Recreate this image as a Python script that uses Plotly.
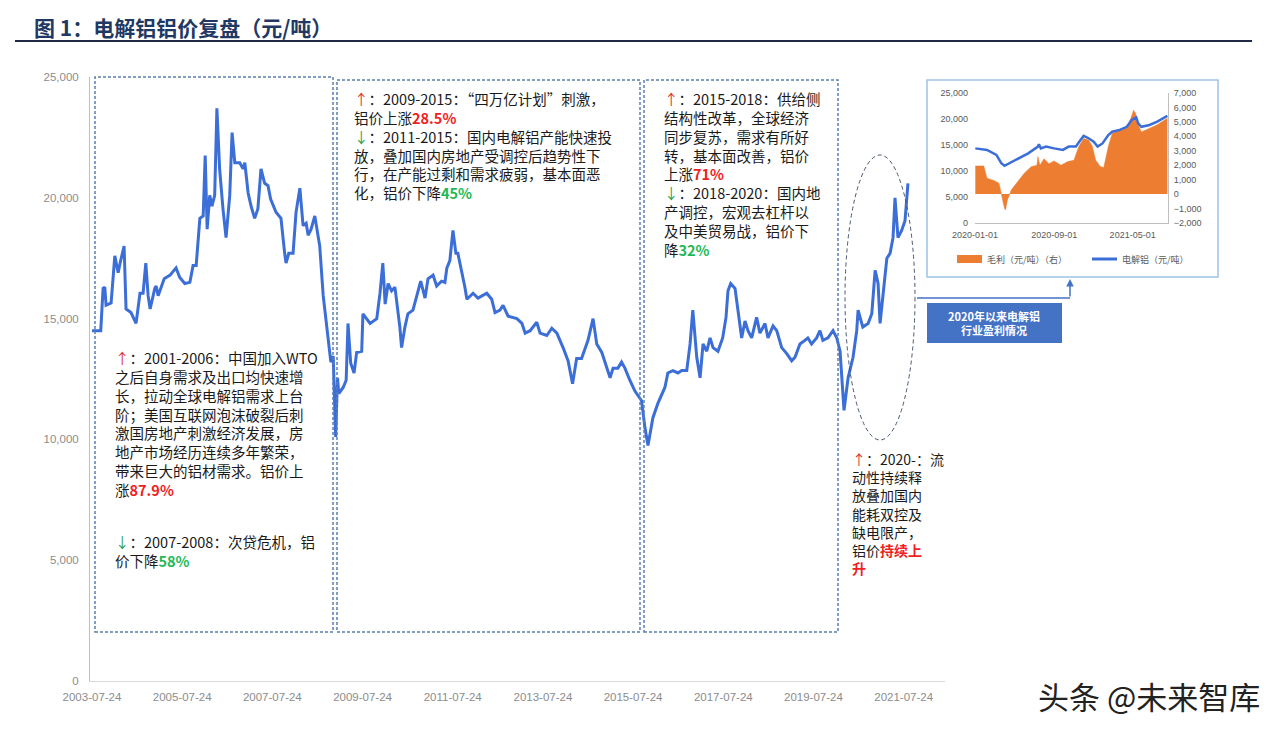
import plotly.graph_objects as go

W, H = 1282, 734
CJK = "Noto Sans CJK SC"


def px(x):
    return x / W


def py(y):
    return 1 - y / H


# ---------------- data: main chart ----------------
dates = [
    "2003-07-24", "2003-10-03", "2003-10-22", "2003-11-05", "2003-11-15", "2003-12-26",
    "2004-01-25", "2004-02-21", "2004-03-08", "2004-04-09", "2004-04-25", "2004-06-04",
    "2004-07-15", "2004-08-16", "2004-09-10", "2004-10-02", "2004-10-21", "2004-11-06",
    "2004-12-14", "2004-12-25", "2005-01-10", "2005-02-28", "2005-04-17", "2005-06-04",
    "2005-07-04", "2005-08-14", "2005-09-24", "2005-10-20", "2005-11-14", "2005-12-14",
    "2006-01-10", "2006-01-26", "2006-02-11", "2006-03-04", "2006-03-22", "2006-04-13",
    "2006-05-01", "2006-05-23", "2006-06-19", "2006-07-14", "2006-08-13", "2006-09-01",
    "2006-09-23", "2006-11-02", "2006-11-29", "2006-12-13", "2007-01-09", "2007-02-02",
    "2007-03-03", "2007-03-29", "2007-04-23", "2007-05-23", "2007-06-19", "2007-07-10",
    "2007-08-23", "2007-10-02", "2007-11-01", "2007-11-12", "2007-12-04", "2008-01-08",
    "2008-02-01", "2008-03-03", "2008-03-29", "2008-04-23", "2008-05-09", "2008-06-02",
    "2008-07-02", "2008-07-20", "2008-08-11", "2008-09-08", "2008-10-18", "2008-11-09",
    "2008-11-28", "2008-12-18", "2009-01-02", "2009-01-12", "2009-02-17", "2009-03-13",
    "2009-03-28", "2009-04-19", "2009-05-16", "2009-06-06", "2009-07-17", "2009-07-27",
    "2009-09-23", "2009-11-16", "2009-12-12", "2010-01-04", "2010-01-23", "2010-02-16",
    "2010-03-16", "2010-04-12", "2010-05-22", "2010-06-05", "2010-07-02", "2010-07-26",
    "2010-09-05", "2010-10-16", "2010-11-07", "2010-12-12", "2011-01-05", "2011-02-15",
    "2011-03-16", "2011-04-25", "2011-05-22", "2011-06-07", "2011-07-01", "2011-07-26",
    "2011-08-19", "2011-09-04", "2011-10-04", "2011-10-31", "2011-11-16", "2012-01-05",
    "2012-02-14", "2012-04-25", "2012-06-04", "2012-07-01", "2012-08-10", "2012-09-04",
    "2012-10-15", "2012-12-25", "2013-02-04", "2013-03-02", "2013-04-11", "2013-06-04",
    "2013-07-01", "2013-08-24", "2013-10-04", "2013-11-14", "2014-01-03", "2014-02-13",
    "2014-03-21", "2014-04-23", "2014-06-02", "2014-07-24", "2014-09-03", "2014-10-03",
    "2014-11-13", "2014-12-23", "2015-01-19", "2015-02-12", "2015-03-23", "2015-04-22",
    "2015-05-19", "2015-06-28", "2015-08-08", "2015-10-01", "2015-10-28", "2015-11-22",
    "2016-01-01", "2016-02-11", "2016-04-07", "2016-05-01", "2016-06-11", "2016-07-22",
    "2016-08-21", "2016-10-01", "2016-10-28", "2016-11-19", "2016-12-21", "2017-01-17",
    "2017-02-10", "2017-03-12", "2017-04-08", "2017-05-02", "2017-06-11", "2017-07-19",
    "2017-08-15", "2017-08-31", "2017-09-22", "2017-10-27", "2017-11-20", "2017-12-20",
    "2018-01-16", "2018-02-09", "2018-03-11", "2018-04-20", "2018-05-17", "2018-06-27",
    "2018-07-21", "2018-08-31", "2018-09-30", "2018-11-09", "2018-12-20", "2019-01-29",
    "2019-02-25", "2019-04-06", "2019-05-16", "2019-06-09", "2019-07-09", "2019-08-19",
    "2019-09-15", "2019-10-09", "2019-11-19", "2019-12-30", "2020-01-29", "2020-02-25",
    "2020-03-28", "2020-04-30", "2020-06-09", "2020-07-09", "2020-07-20", "2020-08-27",
    "2020-10-09", "2020-11-08", "2020-12-05", "2020-12-29", "2021-01-14", "2021-02-08",
    "2021-03-10", "2021-04-05", "2021-04-29", "2021-05-15", "2021-06-08", "2021-07-08",
    "2021-08-04", "2021-08-28",
]
price = [
    14500, 14500, 16250, 16300, 15550, 15650,
    17600, 16900, 17300, 18000, 15400, 15250,
    14800, 16050, 16050, 17300, 15950, 15400,
    16250, 16350, 15950, 16650, 16800, 17100,
    16700, 16450, 16500, 17200, 17200, 19150,
    19250, 21750, 18700, 20100, 19650, 20100,
    23700, 21200, 19550, 18350, 20100, 22700,
    21450, 21450, 21200, 21450, 20200, 19650,
    19150, 19550, 21200, 20600, 20500, 19950,
    19400, 19150, 17700, 17300, 17700, 17700,
    19400, 20400, 18850, 18950, 18450, 18700,
    19250, 18700, 18000, 15950, 14150, 13200,
    13450, 10100, 12550, 11900, 12150, 12450,
    14800, 13150, 12750, 13600, 13650, 15200,
    14800, 15000, 16050, 17300, 15600, 16450,
    16150, 16300, 14650, 13800, 14650, 15200,
    15350, 16150, 16550, 15850, 16650, 16800,
    16350, 16550, 16500, 17100, 17400, 18650,
    17700, 17700, 17000, 16300, 15800, 16050,
    15850, 16050, 15800, 15250, 15350, 15550,
    15100, 15000, 14800, 14400, 14500, 14850,
    14400, 14300, 14600, 14400, 13800, 13250,
    12300, 13350, 13350, 14100, 15000, 13950,
    13600, 12950, 12550, 12950, 12950, 13200,
    12950, 12450, 12000, 11600, 10500, 9750,
    10900, 11500, 12150, 12750, 12850, 12750,
    12850, 12850, 13950, 15350, 13400, 12550,
    13950, 13650, 14200, 13800, 13650, 14200,
    15050, 16150, 16450, 16250, 15350, 14200,
    14900, 14500, 14200, 15050, 14400, 14800,
    14200, 14700, 14500, 13800, 13550, 13250,
    13400, 13950, 14100, 14200, 13950, 14200,
    14500, 14100, 14200, 14500, 14200, 13650,
    11200, 12550, 13400, 14500, 15350, 14650,
    14800, 15200, 17000, 16450, 14800, 16150,
    17500, 17700, 18350, 20000, 18350, 18650,
    19050, 20600,
]
x_ticks = ["2003-07-24", "2005-07-24", "2007-07-24", "2009-07-24", "2011-07-24",
           "2013-07-24", "2015-07-24", "2017-07-24", "2019-07-24", "2021-07-24"]
y_ticks = [0, 5000, 10000, 15000, 20000, 25000]

# ---------------- data: inset ----------------
inset_price_dates = [
    "2020-01-02", "2020-02-07", "2020-03-07", "2020-03-22", "2020-04-01", "2020-04-16",
    "2020-05-13", "2020-06-13", "2020-07-13", "2020-07-16", "2020-07-22", "2020-08-07",
    "2020-09-01", "2020-09-28", "2020-10-16", "2020-11-07", "2020-11-19", "2020-12-01",
    "2020-12-16", "2021-01-01", "2021-01-13", "2021-01-28", "2021-02-15", "2021-02-27",
    "2021-03-22", "2021-04-13", "2021-04-28", "2021-05-12", "2021-05-18", "2021-05-28",
    "2021-06-22", "2021-07-16", "2021-08-16",
]
inset_price = [
    14350, 14050, 13100, 11500, 11000, 11500,
    12450, 13400, 14700, 15150, 14350, 14700,
    14350, 14050, 14700, 14700, 15750, 16750,
    16300, 15650, 14700, 15300, 16900, 17550,
    17900, 18500, 19800, 20300, 19150, 18500,
    18850, 19500, 20600,
]
margin_dates = [
    "2020-01-02", "2020-01-28", "2020-02-07", "2020-02-28", "2020-03-15", "2020-03-22",
    "2020-04-01", "2020-04-04", "2020-04-10", "2020-04-22", "2020-05-13", "2020-06-01",
    "2020-06-22", "2020-07-10", "2020-07-13", "2020-07-19", "2020-08-01", "2020-08-16",
    "2020-09-01", "2020-09-22", "2020-10-13", "2020-11-01", "2020-11-16", "2020-12-01",
    "2020-12-16", "2020-12-28", "2021-01-07", "2021-01-22", "2021-02-01", "2021-02-15",
    "2021-02-27", "2021-03-22", "2021-04-16", "2021-04-28", "2021-05-04", "2021-05-10",
    "2021-05-16", "2021-05-28", "2021-06-22", "2021-07-16", "2021-08-16",
]
margin_vals = [
    1950, 1950, 1100, 950, 750, -50,
    -1000, -1100, -400, 300, 950, 1450,
    1900, 2000, 2600, 2000, 2450, 2100,
    2300, 2000, 2250, 2350, 3300, 3850,
    3750, 3300, 2350, 1900, 1850, 3300,
    4200, 4450, 4650, 5350, 5800, 5600,
    4900, 4300, 4550, 4800, 5250,
]
inset_x_ticks = ["2020-01-01", "2020-09-01", "2021-05-01"]
inset_left_ticks = [0, 5000, 10000, 15000, 20000, 25000]
inset_right_ticks = [-2000, -1000, 0, 1000, 2000, 3000, 4000, 5000, 6000, 7000]

# ---------------- figure ----------------
fig = go.Figure()

fig.add_trace(go.Scatter(
    x=dates, y=price, mode="lines",
    line=dict(color="#3C6ED7", width=3),
    xaxis="x", yaxis="y", showlegend=False, hoverinfo="skip"))

fig.add_trace(go.Scatter(
    x=margin_dates, y=margin_vals, mode="lines", fill="tozeroy",
    line=dict(color="#ED7D31", width=0.5), fillcolor="#ED7D31",
    xaxis="x2", yaxis="y3", showlegend=False, hoverinfo="skip"))

fig.add_trace(go.Scatter(
    x=inset_price_dates, y=inset_price, mode="lines",
    line=dict(color="#3C6ED7", width=2.5),
    xaxis="x2", yaxis="y4", showlegend=False, hoverinfo="skip"))

tick_font = dict(family="Liberation Sans, Arial", size=11.5, color="#8C8C8C")
small_font = dict(family="Liberation Sans, Arial", size=9, color="#595959")

fig.update_layout(
    width=W, height=H,
    margin=dict(l=0, r=0, t=0, b=0, autoexpand=False),
    paper_bgcolor="white",
    plot_bgcolor="rgba(0,0,0,0)",
    xaxis=dict(
        type="date", domain=[px(90), px(945)],
        range=["2003-07-08", "2022-06-24"],
        tickmode="array", tickvals=x_ticks, ticktext=x_ticks,
        showgrid=False, zeroline=False, showline=True,
        linecolor="#D9D9D9", linewidth=1, ticks="",
        tickfont=tick_font, ticklabelstandoff=5, anchor="y", automargin=False),
    yaxis=dict(
        domain=[py(681), py(77)], range=[0, 25000],
        tickmode="array", tickvals=y_ticks, tickformat=",",
        showgrid=False, zeroline=False, showline=True,
        linecolor="#BFBFBF", linewidth=1, ticks="",
        tickfont=tick_font, ticklabelstandoff=8, anchor="x", automargin=False),
    xaxis2=dict(
        type="date", domain=[px(975), px(1168)],
        range=["2020-01-01", "2021-08-18"],
        tickmode="array", tickvals=inset_x_ticks, ticktext=inset_x_ticks,
        showgrid=False, zeroline=False, showline=True,
        linecolor="#BFBFBF", linewidth=1, ticks="",
        tickfont=small_font, ticklabelstandoff=3, anchor="y4", automargin=False),
    yaxis3=dict(
        domain=[py(223), py(93)], range=[-2000, 7000],
        tickmode="array", tickvals=inset_right_ticks, tickformat=",",
        side="right", anchor="x2",
        showgrid=False, zeroline=False, showline=True,
        linecolor="#BFBFBF", linewidth=1, ticks="",
        tickfont=small_font, ticklabelstandoff=3, automargin=False),
    yaxis4=dict(
        domain=[py(223), py(93)], range=[0, 25000],
        tickmode="array", tickvals=inset_left_ticks, tickformat=",",
        side="left", anchor="x2", overlaying="y3",
        showgrid=False, zeroline=False, showline=False, ticks="",
        tickfont=small_font, ticklabelstandoff=6, automargin=False),
)

shapes = []
annotations = []

# title underline
shapes.append(dict(type="line", xref="paper", yref="paper",
                   x0=px(15), x1=px(1252), y0=py(41), y1=py(41),
                   line=dict(color="#1F2A44", width=2)))
annotations.append(dict(
    xref="paper", yref="paper", x=px(32), y=py(27), xanchor="left", yanchor="middle",
    showarrow=False, text="<b>图 1：电解铝铝价复盘（元/吨）</b>",
    font=dict(family=CJK, size=21, color="#1F3864")))

# dashed period boxes
box_line = dict(color="#5A7FB5", width=1.5, dash="3px,2px")
for (x0, x1, y0, y1) in [(95, 333, 77, 632), (337, 640, 80, 632), (644, 838, 80, 632)]:
    shapes.append(dict(type="rect", xref="paper", yref="paper",
                       x0=px(x0), x1=px(x1), y0=py(y1), y1=py(y0),
                       line=box_line, fillcolor="rgba(0,0,0,0)"))

# dashed ellipse
shapes.append(dict(type="circle", xref="paper", yref="paper",
                   x0=px(845), x1=px(915), y0=py(440), y1=py(155),
                   line=dict(color="#44546A", width=1, dash="4px,3px")))

# inset frame
shapes.append(dict(type="rect", xref="paper", yref="paper", layer="below",
                   x0=px(927), x1=px(1218), y0=py(277), y1=py(80),
                   line=dict(color="#9DC3E6", width=1.5), fillcolor="white"))

# connector line + arrow
shapes.append(dict(type="line", xref="paper", yref="paper",
                   x0=px(917), x1=px(1070), y0=py(298), y1=py(298),
                   line=dict(color="#4472C4", width=1.5)))
annotations.append(dict(xref="paper", yref="paper", x=px(1070), y=py(279),
                        ax=0, ay=19, text="", showarrow=True, arrowhead=2,
                        arrowsize=1, arrowwidth=1.5, arrowcolor="#4472C4"))

# blue label box
shapes.append(dict(type="rect", xref="paper", yref="paper",
                   x0=px(927), x1=px(1062), y0=py(343), y1=py(303),
                   line=dict(width=0), fillcolor="#4472C4"))
annotations.append(dict(
    xref="paper", yref="paper", x=px(994), y=py(323), xanchor="center", yanchor="middle",
    showarrow=False, text="<b>2020年以来电解铝<br>行业盈利情况</b>",
    font=dict(family=CJK, size=11, color="white")))

# inset legend
shapes.append(dict(type="rect", xref="paper", yref="paper",
                   x0=px(957), x1=px(982), y0=py(263), y1=py(255),
                   line=dict(width=0), fillcolor="#ED7D31"))
shapes.append(dict(type="line", xref="paper", yref="paper",
                   x0=px(1092), x1=px(1117), y0=py(259), y1=py(259),
                   line=dict(color="#3C6ED7", width=3)))
annotations.append(dict(xref="paper", yref="paper", x=px(985), y=py(259),
                        xanchor="left", yanchor="middle", showarrow=False,
                        text="毛利（元/吨）（右）",
                        font=dict(family=CJK, size=9, color="#595959")))
annotations.append(dict(xref="paper", yref="paper", x=px(1120), y=py(259),
                        xanchor="left", yanchor="middle", showarrow=False,
                        text="电解铝（元/吨）",
                        font=dict(family=CJK, size=9, color="#595959")))


def red(s):
    return f"<span style='color:#F01E1E'><b>{s}</b></span>"


def green(s):
    return f"<span style='color:#1DB954'><b>{s}</b></span>"


UP = "<span style='color:#E03030'>↑</span>："
DN = "<span style='color:#1E9E50'>↓</span>："


def add_block(x0, y_first, lines, size=14.5):
    # y_first: centre of the first line (pixels); plotly line spacing is 1.3em
    top = y_first - 0.65 * size
    annotations.append(dict(
        xref="paper", yref="paper", x=px(x0), y=py(top),
        xanchor="left", yanchor="top", align="left", showarrow=False,
        text="<br>".join(lines),
        font=dict(family=CJK, size=size, color="#1A1A1A")))


add_block(113, 354, [
    UP + "2001-2006：中国加入WTO",
    "之后自身需求及出口均快速增",
    "长，拉动全球电解铝需求上台",
    "阶；美国互联网泡沫破裂后刺",
    "激国房地产刺激经济发展，房",
    "地产市场经历连续多年繁荣，",
    "带来巨大的铝材需求。铝价上",
    "涨" + red("87.9%"),
])
add_block(113, 538, [
    DN + "2007-2008：次贷危机，铝",
    "价下降" + green("58%"),
])
add_block(352, 95, [
    UP + "2009-2015：“四万亿计划”刺激，",
    "铝价上涨" + red("28.5%"),
    DN + "2011-2015：国内电解铝产能快速投",
    "放，叠加国内房地产受调控后趋势性下",
    "行，在产能过剩和需求疲弱，基本面恶",
    "化，铝价下降" + green("45%"),
])
add_block(662, 95, [
    UP + "2015-2018：供给侧",
    "结构性改革，全球经济",
    "同步复苏，需求有所好",
    "转，基本面改善，铝价",
    "上涨" + red("71%"),
    DN + "2018-2020：国内地",
    "产调控，宏观去杠杆以",
    "及中美贸易战，铝价下",
    "降" + green("32%"),
])
add_block(850, 456, [
    UP + "2020-：流",
    "动性持续释",
    "放叠加国内",
    "能耗双控及",
    "缺电限产，",
    "铝价" + red("持续上"),
    red("升"),
], size=14)

# watermark
annotations.append(dict(xref="paper", yref="paper", x=px(1262), y=py(695),
                        xanchor="right", yanchor="middle", showarrow=False,
                        text="头条 @未来智库",
                        font=dict(family=CJK, size=31, color="#222222")))

fig.update_layout(shapes=shapes, annotations=annotations)

fig.write_html("out.html",
               config={"displayModeBar": False},
               post_script="document.body.style.margin='0';document.body.style.overflow='hidden';")
